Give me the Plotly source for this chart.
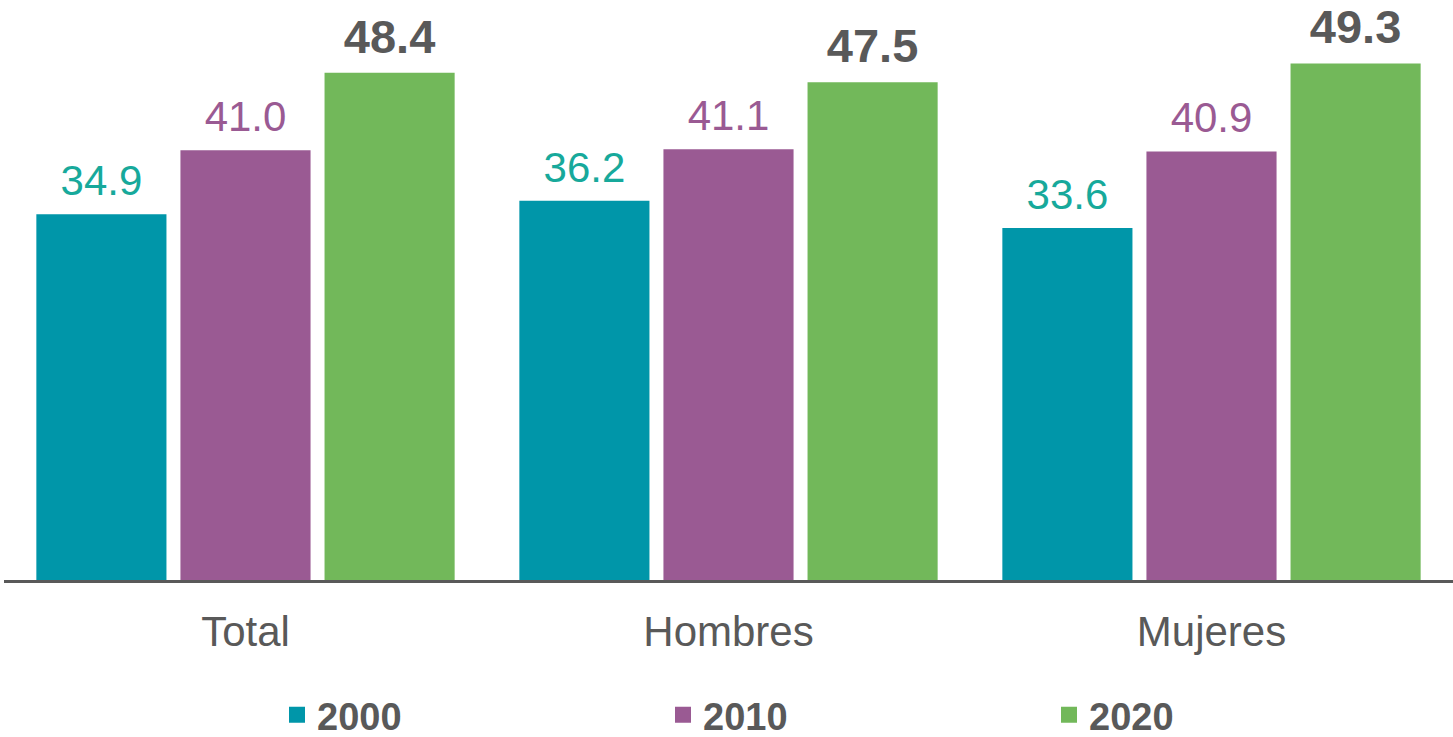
import plotly.graph_objects as go

categories = ["Total", "Hombres", "Mujeres"]
years = ["2000", "2010", "2020"]
v2000 = [34.9, 36.2, 33.6]
v2010 = [41.0, 41.1, 40.9]
v2020 = [48.4, 47.5, 49.3]
series = [v2000, v2010, v2020]

bar_colors = ["#0096A9", "#9A5A93", "#72B85A"]
label_colors = ["#17A99B", "#9A5A93", "#595959"]
label_sizes = [42, 42, 47]
label_weights = ["normal", "normal", "bold"]
GREY = "#595959"
FONT = "Liberation Sans, Arial, sans-serif"

fig = go.Figure()

for yr, vals, c in zip(years, series, bar_colors):
    fig.add_trace(go.Bar(
        x=categories, y=vals, name=yr,
        marker=dict(color=c, line=dict(width=0)),
        showlegend=False, hoverinfo="x+y+name",
    ))

for yr, vals, c, s, w in zip(years, series, label_colors, label_sizes, label_weights):
    fig.add_trace(go.Scatter(
        x=categories, y=vals, name=yr,
        mode="markers+text",
        text=[f"{v:.1f}" for v in vals],
        textposition="top center",
        textfont=dict(color=c, size=s, family=FONT, weight=w),
        marker=dict(size=12, opacity=0, color=c),
        showlegend=False, hoverinfo="skip", cliponaxis=False,
    ))

for yr, c in zip(years, bar_colors):
    fig.add_trace(go.Scatter(
        x=[None], y=[None], name=yr, mode="markers",
        marker=dict(symbol="square", size=22, color=c),
        xaxis="x2", yaxis="y2", showlegend=True,
    ))

fig.update_layout(
    width=1453, height=737,
    margin=dict(l=4, r=0, t=0, b=157, autoexpand=False),
    paper_bgcolor="white", plot_bgcolor="white",
    barmode="group", bargap=0.105, bargroupgap=0.097,
    scattermode="group", scattergap=0.105,
    font=dict(family=FONT, color=GREY),
    showlegend=True,
    legend=dict(
        orientation="h", x=(277 - 4) / 1449, xanchor="left",
        y=-0.233, yanchor="middle",
        entrywidth=341, entrywidthmode="pixels",
        font=dict(size=38, color=GREY, family=FONT, weight="bold"),
        itemsizing="trace", bgcolor="rgba(0,0,0,0)",
    ),
    xaxis=dict(
        type="category", showline=True, linecolor=GREY, linewidth=3,
        ticks="", showgrid=False, zeroline=False,
        tickfont=dict(size=42, color=GREY, family=FONT),
        ticklabelstandoff=13,
    ),
    yaxis=dict(range=[0, 55.35], visible=False, showgrid=False, zeroline=False),
    xaxis2=dict(overlaying="x", visible=False, range=[0, 1]),
    yaxis2=dict(overlaying="y", visible=False, range=[0, 1]),
)

fig.write_html(
    "out.html",
    config={"displayModeBar": False},
    post_script="document.body.style.margin='0px';document.body.style.overflow='hidden';",
)
